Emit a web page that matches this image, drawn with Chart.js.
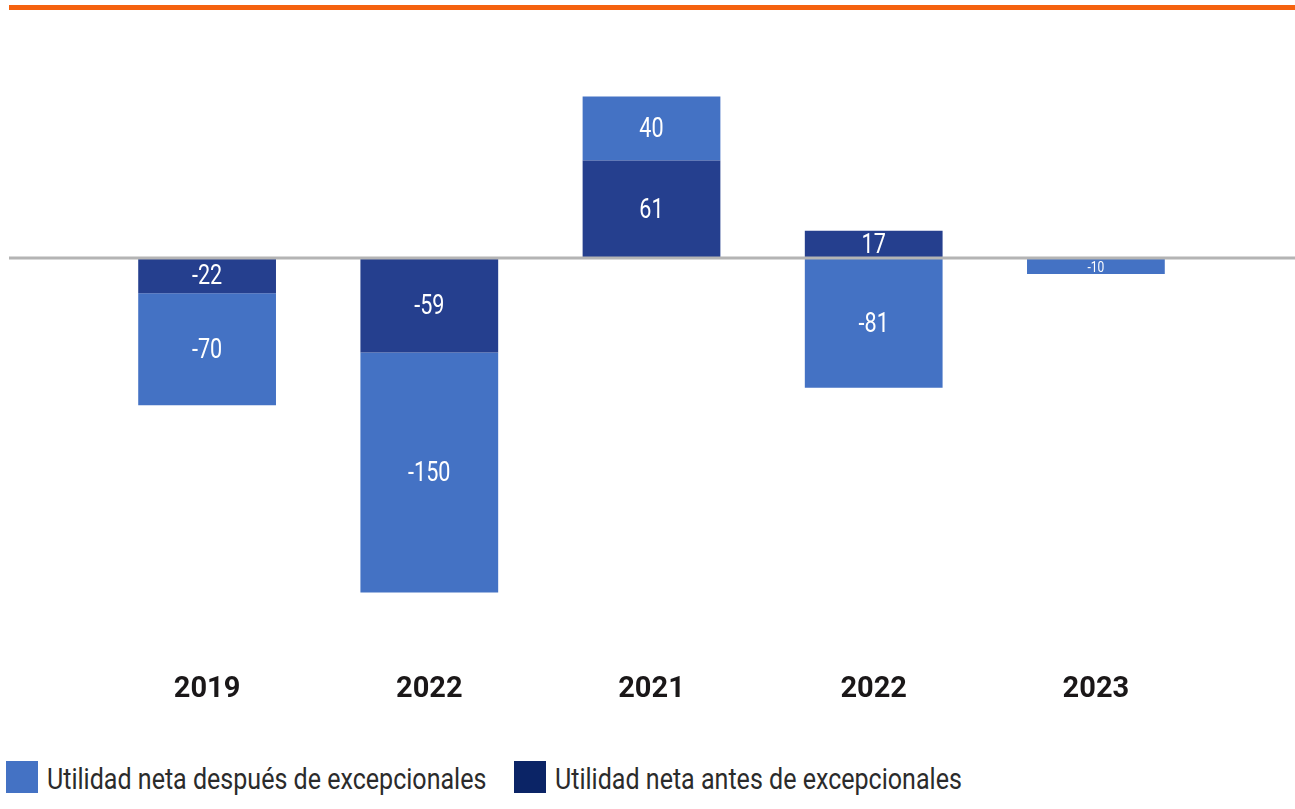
<!DOCTYPE html>
<html>
<head>
<meta charset="utf-8">
<script src="https://cdn.jsdelivr.net/npm/chart.js@4/dist/chart.umd.min.js"></script>
<style>
  body { margin: 0; background: #fff; }
  .wrap { position: relative; width: 1295px; height: 809px; }
  #utilidadChart { position: absolute; left: 0; top: 0; }
  .legend-item { position: absolute; top: 761px; height: 32px; display: flex; align-items: center;
                 font-family: Roboto, sans-serif; font-size: 30px; color: #2b2b2b; white-space: nowrap; }
  .legend-box { width: 32px; height: 32px; margin-right: 9px; flex: none; }
  .legend-text { display: inline-block; transform: scaleX(0.835); transform-origin: left center; line-height: 32px; position: relative; top: 2px; }
</style>
</head>
<body>
<div class="wrap">
  <canvas id="utilidadChart" width="1295" height="727"></canvas>
  <div id="legend"></div>
</div>
<script>
// Datos (millones)
const years = ['2019', '2022', '2021', '2022', '2023'];
const antesExcepcionales = [-22, -59, 61, 17, null];     // barra oscura
const despuesExcepcionales = [-70, -150, 40, -81, -10];  // barra clara

const colorAntes = '#253f8e';
const colorDespues = '#4472c4';

// linea naranja arriba + linea del cero + etiquetas
const decoPlugin = {
  id: 'deco',
  beforeDraw(chart) {
    const ctx = chart.ctx;
    ctx.save();
    ctx.fillStyle = '#f5620f';
    ctx.fillRect(9, 5, chart.width - 9, 5);
    ctx.restore();
  },
  afterDatasetsDraw(chart) {
    const ctx = chart.ctx;
    const y0 = chart.scales.y.getPixelForValue(0);
    ctx.save();
    ctx.strokeStyle = '#b4b4b4';
    ctx.lineWidth = 3;
    ctx.beginPath();
    ctx.moveTo(9, y0);
    ctx.lineTo(chart.width, y0);
    ctx.stroke();

    // etiquetas de valor dentro de las barras
    ctx.fillStyle = '#ffffff';
    ctx.textAlign = 'center';
    ctx.textBaseline = 'middle';
    chart.data.datasets.forEach((ds, i) => {
      const meta = chart.getDatasetMeta(i);
      meta.data.forEach((bar, j) => {
        const v = ds.data[j];
        if (v === null || v === undefined) return;
        const h = Math.abs(bar.base - bar.y);
        const size = h < 22 ? 15 : 27;
        ctx.save();
        ctx.translate(bar.x, (bar.y + bar.base) / 2 + 2);
        ctx.scale(0.8, 1);
        ctx.font = size + 'px Roboto, sans-serif';
        ctx.fillText(String(v), 0, 0);
        ctx.restore();
      });
    });
    ctx.restore();
  }
};

const ctx = document.getElementById('utilidadChart').getContext('2d');
new Chart(ctx, {
  type: 'bar',
  data: {
    labels: years,
    datasets: [{
      label: 'Utilidad neta antes de excepcionales',
      data: antesExcepcionales,
      backgroundColor: colorAntes
    }, {
      label: 'Utilidad neta después de excepcionales',
      data: despuesExcepcionales,
      backgroundColor: colorDespues
    }]
  },
  options: {
    responsive: false,
    animation: false,
    layout: { padding: { top: 18, bottom: 14, left: 96, right: 88 } },
    datasets: { bar: { barPercentage: 0.62, categoryPercentage: 1.0 } },
    plugins: {
      legend: { display: false },
      tooltip: { enabled: false }
    },
    scales: {
      x: {
        stacked: true,
        grid: { display: false },
        border: { display: false },
        ticks: {
          color: '#1a1718',
          padding: 6,
          font: { family: 'Roboto, sans-serif', size: 29, weight: 'bold' }
        }
      },
      y: {
        stacked: true,
        display: false,
        min: -250,
        max: 150
      }
    }
  },
  plugins: [decoPlugin]
});

// leyenda en HTML (orden: después, antes)
const legendEl = document.getElementById('legend');
[
  { text: 'Utilidad neta después de excepcionales', color: colorDespues, left: 6 },
  { text: 'Utilidad neta antes de excepcionales', color: '#0b2466', left: 514 }
].forEach(item => {
  const div = document.createElement('div');
  div.className = 'legend-item';
  div.style.left = item.left + 'px';
  div.innerHTML = '<span class="legend-box" style="background:' + item.color + '"></span><span class="legend-text">' + item.text + '</span>';
  legendEl.appendChild(div);
});
</script>
</body>
</html>
